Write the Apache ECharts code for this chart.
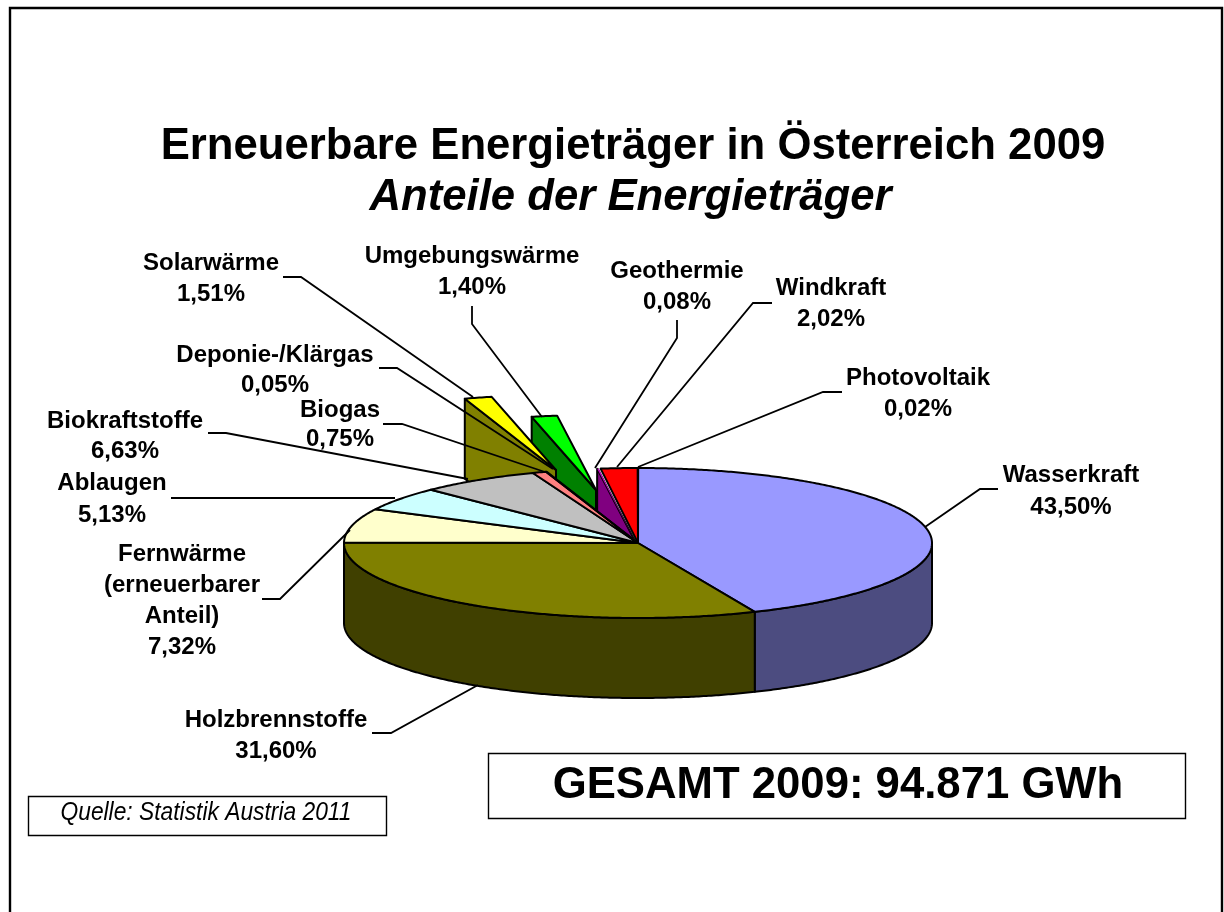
<!DOCTYPE html>
<html>
<head>
<meta charset="utf-8">
<script src="https://cdn.jsdelivr.net/npm/echarts@6/dist/echarts.min.js"></script>
<style>
    html, body { margin: 0; padding: 0; background: #fff; }
    #chart { width: 1224px; height: 912px; }
</style>
</head>
<body>
<div id="chart"></div>
<script>
// values, in drawing order clockwise from 12 o'clock
const categories = ['Wasserkraft', 'Holzbrennstoffe', 'Fernwärme\n(erneuerbarer\nAnteil)', 'Ablaugen', 'Biokraftstoffe', 'Biogas',
    'Deponie-/Klärgas', 'Solarwärme', 'Umgebungswärme', 'Geothermie', 'Windkraft', 'Photovoltaik'];
const shares = [43.50, 31.60, 7.32, 5.13, 6.63, 0.75, 0.05, 1.51, 1.40, 0.08, 2.02, 0.02];
const titleText = 'Erneuerbare Energieträger in Österreich 2009';
const subtitleText = 'Anteile der Energieträger';
const totalText = 'GESAMT 2009: 94.871 GWh';
const sourceText = 'Quelle: Statistik Austria 2011';

// styles
const topColors = ['#9999FF', '#808000', '#FFFFCC', '#CCFFFF', '#C0C0C0', '#FF8080', '#808000', '#FFFF00', '#00FF00', '#FF00FF', '#FF0000', '#FF0000'];
const wallColors = ['#4C4C80', '#404000', '#808066', '#668080', '#606060', '#804040', '#808000', '#808000', '#008000', '#800080', '#800000', '#800000'];
// pulled-out slices: pixel offset of the whole slice
const explode = { 7: [-82, -73], 8: [-42, -53], 9: [-2, 0] };
const showCutFace = [7, 8, 9];
const layerOf = { 7: 3, 8: 2, 9: 6 };

const cx = 638, cy = 543, rx = 294, ry = 75, depth = 80;
const FONT = '"Liberation Sans", Arial, sans-serif';

// label block centres and leader lines, index as in categories
const labelPos = [
    [1071, 490, 32], [276, 735, 31], [182, 600, 31], [112, 498, 32], [125, 435, 30], [340, 424, 29],
    [275, 369, 30], [211, 278, 31], [472, 271, 31], [677, 286, 31], [831, 303, 31], [918, 393, 31]
];
const leaders = [
    [[998, 489], [980, 489], [925, 527]],
    [[372, 733], [391, 733], [478, 685]],
    [[262, 599], [280, 599], [350, 530]],
    [[171, 498], [395, 498]],
    [[208, 433], [226, 433], [468, 479]],
    [[383, 424], [402, 424], [545, 472]],
    [[379, 368], [397, 368], [553, 469]],
    [[283, 277], [301, 277], [473, 397]],
    [[472, 306], [472, 324], [542, 417]],
    [[677, 320], [677, 338], [595, 468]],
    [[772, 303], [753, 303], [617, 467]],
    [[842, 392], [823, 392], [638, 467]]
];

const startAngles = [];
let running = 0;
shares.forEach(function (v) {
    startAngles.push(running / 100 * 360);
    running += v;
});

// point on the rim, angle in degrees clockwise from the top
function rim(deg, dx, dy, drop) {
    const a = deg * Math.PI / 180;
    return [cx + dx + rx * Math.sin(a), cy + dy - ry * Math.cos(a) + drop];
}

function arc(from, to, dx, dy, drop) {
    const pts = [];
    const steps = Math.max(1, Math.ceil((to - from) * 2));
    for (let i = 0; i <= steps; i++) {
        pts.push(rim(from + (to - from) * i / steps, dx, dy, drop));
    }
    return pts;
}

function edgeStyle(fill, width) {
    return { fill: fill, stroke: '#000', lineWidth: width || 2, lineJoin: 'round' };
}

function renderSlice(params, api) {
    const i = params.dataIndex;
    const from = startAngles[i];
    const to = from + api.value(0) / 100 * 360;
    const off = explode[i] || [0, 0];
    const apex = [cx + off[0], cy + off[1]];
    const layer = layerOf[i] || 5;
    const children = [];

    if (showCutFace.indexOf(i) >= 0) {
        const r = rim(from, off[0], off[1], 0);
        children.push({
            type: 'polygon',
            z2: i === 9 ? 1 : layer,
            shape: { points: [r, apex, [apex[0], apex[1] + depth], [r[0], r[1] + depth]] },
            style: edgeStyle(wallColors[i])
        });
    }
    // front wall, only the part between 3 and 9 o'clock shows
    const wallFrom = Math.max(from, 90), wallTo = Math.min(to, 270);
    if (wallTo > wallFrom) {
        children.push({
            type: 'polygon',
            z2: layer,
            shape: { points: arc(wallFrom, wallTo, off[0], off[1], 0).concat(arc(wallFrom, wallTo, off[0], off[1], depth).reverse()) },
            style: edgeStyle(wallColors[i])
        });
    }
    children.push({
        type: 'polygon',
        z2: layer + 1,
        shape: { points: [apex].concat(arc(from, to, off[0], off[1], 0)) },
        // the geothermal sliver would vanish under a full edge
        style: edgeStyle(topColors[i], i === 9 ? 0.4 : 2)
    });
    return { type: 'group', children: children };
}

const graphics = [
    { type: 'rect', z: 0, shape: { x: 10, y: 8, width: 1212, height: 940 }, style: { fill: '#fff', stroke: '#000', lineWidth: 2.4 } },
    { type: 'rect', z: 0, shape: { x: 488.5, y: 753.5, width: 697, height: 65 }, style: { fill: '#fff', stroke: '#000', lineWidth: 1.4 } },
    { type: 'rect', z: 0, shape: { x: 28.5, y: 796.5, width: 358, height: 39 }, style: { fill: '#fff', stroke: '#000', lineWidth: 1.4 } },
    { type: 'text', z: 10, x: 838, y: 786, style: { text: totalText, font: 'bold 43.7px ' + FONT, fill: '#000', textAlign: 'center', textVerticalAlign: 'middle' } },
    { type: 'text', z: 10, x: 206, y: 813, scaleX: 0.877, style: { text: sourceText, font: 'italic 26px ' + FONT, fill: '#000', textAlign: 'center', textVerticalAlign: 'middle' } }
];

leaders.forEach(function (pts) {
    graphics.push({ type: 'polyline', z: 10, shape: { points: pts }, style: { fill: 'none', stroke: '#000', lineWidth: 1.8 } });
});
categories.forEach(function (name, i) {
    const p = labelPos[i];
    graphics.push({
        type: 'text', z: 11, x: p[0], y: p[1] + 1,
        style: {
            text: name + '\n' + shares[i].toFixed(2).replace('.', ',') + '%',
            font: 'bold 24px ' + FONT,
            lineHeight: p[2],
            fill: '#000',
            textAlign: 'center',
            textVerticalAlign: 'middle'
        }
    });
});

const chart = echarts.init(document.getElementById('chart'), null, { renderer: 'canvas' });
chart.setOption({
    animation: false,
    backgroundColor: '#fff',
    title: [
        { text: titleText, left: 628, top: 120, textAlign: 'center', textStyle: { fontFamily: FONT, fontSize: 43.7, fontWeight: 'bold', color: '#000' } },
        { text: subtitleText, left: 625.5, top: 171, textAlign: 'center', textStyle: { fontFamily: FONT, fontSize: 43.7, fontWeight: 'bold', fontStyle: 'italic', color: '#000' } }
    ],
    graphic: graphics,
    series: [{
        type: 'custom',
        coordinateSystem: 'none',
        silent: true,
        renderItem: renderSlice,
        data: shares,
        z: 5
    }]
});
</script>
</body>
</html>
